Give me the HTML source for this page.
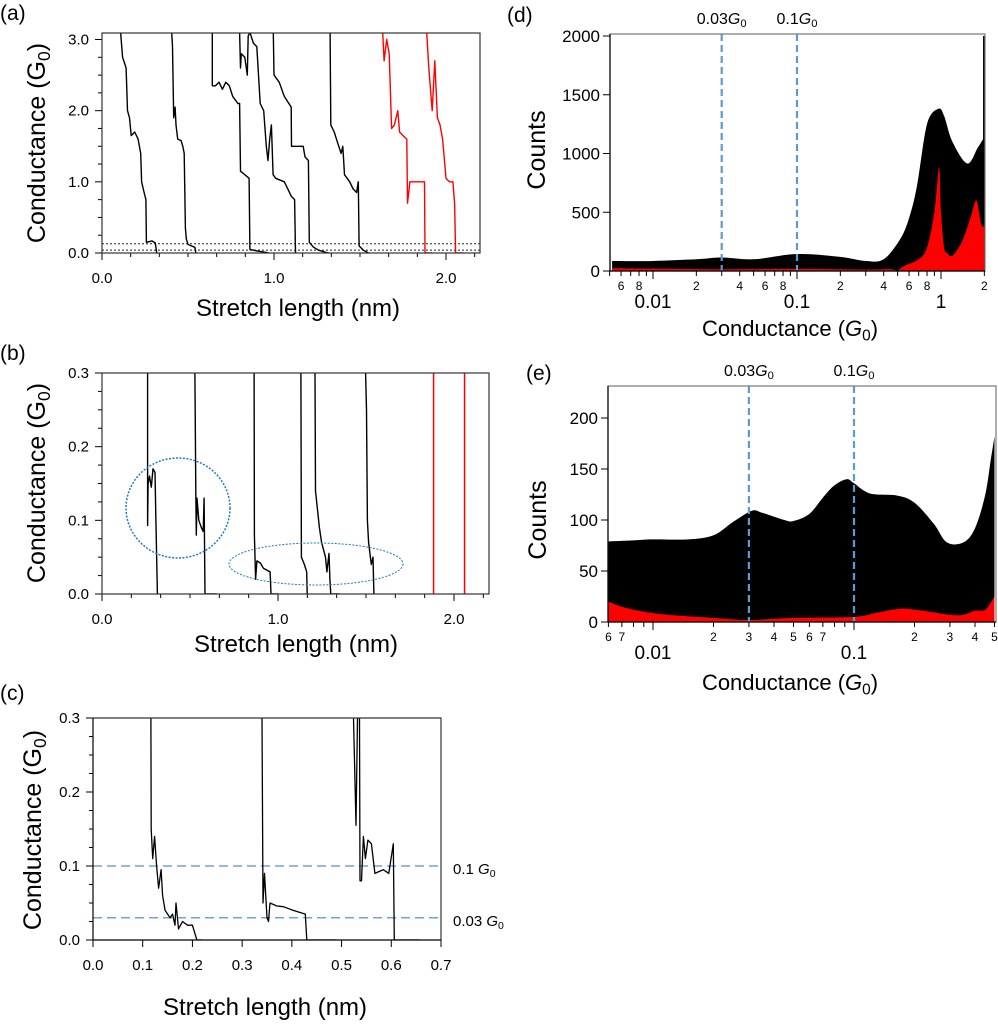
<!DOCTYPE html>
<html><head><meta charset="utf-8"><style>
html,body{margin:0;padding:0;background:#fff;}
svg{display:block;font-family:"Liberation Sans",Arial,sans-serif;}
</style></head><body>
<svg id="fig" width="998" height="1024" viewBox="0 0 998 1024" xmlns="http://www.w3.org/2000/svg"></svg>
<script>
// ---------- DATA ----------
const aBlack1=[[0.108,3.1],[0.12,2.75],[0.14,2.6],[0.148,2.0],[0.16,1.9],[0.17,1.65],[0.19,1.7],[0.21,1.6],[0.225,1.4],[0.23,1.0],[0.245,0.85],[0.255,0.75],[0.258,0.15],[0.29,0.17],[0.31,0.14],[0.318,0.0]];
const aBlack2=[[0.405,3.1],[0.41,2.9],[0.417,1.9],[0.425,2.05],[0.43,1.8],[0.44,1.6],[0.46,1.58],[0.47,1.5],[0.478,1.4],[0.485,0.35],[0.49,0.2],[0.5,0.12],[0.52,0.1],[0.54,0.08],[0.546,0.0]];
const aBlack3=[[0.641,3.1],[0.641,2.35],[0.66,2.35],[0.68,2.4],[0.7,2.3],[0.72,2.4],[0.74,2.35],[0.76,2.2],[0.79,2.1],[0.8,2.1],[0.805,1.15],[0.83,1.1],[0.855,1.05],[0.86,0.05],[0.9,0.03],[0.95,0.01],[0.97,0.0]];
const aBlack4=[[0.8,3.1],[0.805,2.6],[0.81,2.8],[0.83,2.75],[0.845,2.5],[0.85,3.05],[0.86,3.1],[0.88,2.95],[0.9,2.9],[0.92,2.1],[0.94,2.0],[0.955,1.5],[0.965,1.3],[0.975,1.6],[0.985,1.8],[0.995,1.1],[1.01,1.05],[1.06,1.0],[1.08,0.9],[1.1,0.8],[1.12,0.75],[1.125,0.0]];
const aBlack5=[[0.996,3.1],[1.0,2.5],[1.03,2.4],[1.06,2.2],[1.1,2.05],[1.102,1.5],[1.14,1.5],[1.17,1.5],[1.18,1.35],[1.2,1.3],[1.205,0.15],[1.23,0.08],[1.26,0.04],[1.3,0.01],[1.32,0.0]];
const aBlack6=[[1.326,3.1],[1.33,1.8],[1.35,1.7],[1.37,1.55],[1.39,1.4],[1.4,1.5],[1.41,1.1],[1.44,1.0],[1.46,0.9],[1.48,0.85],[1.49,1.0],[1.495,0.1],[1.52,0.04],[1.55,0.0]];
const aRed1=[[1.632,3.1],[1.64,2.7],[1.655,3.0],[1.67,2.8],[1.684,1.75],[1.7,1.8],[1.72,2.0],[1.73,1.7],[1.75,1.65],[1.772,1.6],[1.776,0.7],[1.79,1.0],[1.83,1.0],[1.875,1.0],[1.878,0.0],[1.92,0.0]];
const aRed2=[[1.888,3.1],[1.9,2.6],[1.92,2.0],[1.935,2.7],[1.95,1.9],[1.965,1.8],[1.98,1.6],[2.0,1.05],[2.02,1.0],[2.04,1.0],[2.05,0.7],[2.056,0.0],[2.1,0.0]];
const aRefLines=[0.13,0.04];
const bBlack1=[[0.259,0.3],[0.259,0.093],[0.262,0.15],[0.27,0.16],[0.28,0.145],[0.29,0.17],[0.301,0.165],[0.306,0.1],[0.315,0.0]];
const bBlack2=[[0.528,0.3],[0.533,0.14],[0.536,0.08],[0.54,0.13],[0.55,0.1],[0.565,0.09],[0.575,0.085],[0.58,0.13],[0.585,0.0],[0.65,0.0]];
const bBlack3=[[0.864,0.3],[0.866,0.08],[0.87,0.045],[0.873,0.02],[0.88,0.045],[0.9,0.042],[0.917,0.035],[0.955,0.03],[0.96,0.0],[1.0,0.0]];
const bBlack4=[[1.13,0.3],[1.133,0.05],[1.15,0.04],[1.163,0.03],[1.166,0.0]];
const bBlack5=[[1.21,0.3],[1.213,0.14],[1.235,0.09],[1.248,0.07],[1.27,0.05],[1.278,0.03],[1.29,0.055],[1.295,0.02],[1.3,0.0],[1.35,0.0]];
const bBlack6=[[1.498,0.3],[1.503,0.25],[1.508,0.1],[1.515,0.07],[1.53,0.04],[1.54,0.05],[1.545,0.0]];
const bRedX=[1.884,2.06];
const cBlack1=[[0.1165,0.3],[0.117,0.15],[0.12,0.11],[0.124,0.14],[0.128,0.1],[0.132,0.07],[0.137,0.095],[0.14,0.06],[0.145,0.04],[0.155,0.03],[0.16,0.035],[0.165,0.02],[0.167,0.05],[0.172,0.015],[0.18,0.025],[0.19,0.02],[0.2,0.02],[0.209,0.0],[0.22,0.0]];
const cBlack2=[[0.34,0.3],[0.342,0.05],[0.345,0.09],[0.35,0.03],[0.353,0.025],[0.356,0.05],[0.37,0.046],[0.383,0.045],[0.403,0.04],[0.427,0.035],[0.43,0.0],[0.49,0.0]];
const cBlack3a=[[0.524,0.3],[0.529,0.155],[0.532,0.3]];
const cBlack3b=[[0.536,0.3],[0.537,0.08],[0.54,0.08],[0.544,0.14],[0.548,0.11],[0.553,0.135],[0.56,0.13],[0.567,0.09],[0.584,0.095],[0.595,0.09],[0.604,0.13],[0.606,0.0],[0.658,0.0]];
const cRefLines=[0.1,0.03];
const cRefLabels=["0.1 ","0.03 "];
const dBlack=[[0.0052,85],[0.01,85],[0.02,100],[0.03,115],[0.05,100],[0.1,145],[0.2,120],[0.3,85],[0.4,100],[0.52,270],[0.6,450],[0.68,720],[0.8,1250],[0.96,1380],[1.05,1320],[1.2,1100],[1.52,915],[1.8,1050],[2.0,1140]];
const dSpike=[1.99,2000];
const dRed=[[0.0052,25],[0.01,20],[0.03,15],[0.1,18],[0.3,12],[0.45,15],[0.5,5],[0.55,40],[0.7,100],[0.8,200],[0.9,500],[0.97,880],[1.0,500],[1.05,200],[1.1,155],[1.2,130],[1.4,250],[1.6,450],[1.76,600],[1.9,400],[2.0,380]];
const dYTicks=[0,500,1000,1500,2000];
const dMinorLabels=[[0.006,"6"],[0.008,"8"],[0.02,"2"],[0.04,"4"],[0.06,"6"],[0.08,"8"],[0.2,"2"],[0.4,"4"],[0.6,"6"],[0.8,"8"],[2,"2"]];
const dMajorLabels=[[0.01,"0.01"],[0.1,"0.1"],[1,"1"]];
const eBlack=[[0.006,79],[0.008,80],[0.01,81],[0.015,81],[0.02,85],[0.025,98],[0.031,109],[0.035,107],[0.045,100],[0.05,99],[0.06,106],[0.07,122],[0.08,134],[0.092,140],[0.1,136],[0.12,126],[0.163,124],[0.2,117],[0.25,96],[0.29,78],[0.35,78],[0.4,92],[0.45,125],[0.48,160],[0.5,182]];
const eRed=[[0.006,20],[0.007,15],[0.009,10],[0.012,7],[0.02,4],[0.03,2],[0.05,4],[0.1,5],[0.13,9],[0.17,13],[0.22,11],[0.3,7],[0.35,7],[0.4,11],[0.45,12],[0.5,25]];
const eYTicks=[0,50,100,150,200];
const eMinorLabels=[[0.006,"6"],[0.007,"7"],[0.02,"2"],[0.03,"3"],[0.04,"4"],[0.05,"5"],[0.06,"6"],[0.07,"7"],[0.2,"2"],[0.3,"3"],[0.4,"4"],[0.5,"5"]];
const eMajorLabels=[[0.01,"0.01"],[0.1,"0.1"]];
const refG=[0.03,0.1];

// ---------- HELPERS ----------
const NS="http://www.w3.org/2000/svg";
const svg=document.getElementById('fig');
function mk(tag,attrs,parent){const e=document.createElementNS(NS,tag);for(const k in attrs)e.setAttribute(k,attrs[k]);(parent||svg).appendChild(e);return e;}
function lin(d0,d1,p0,p1){return v=>p0+(v-d0)*(p1-p0)/(d1-d0);}
function lg(d0,d1,p0,p1){return v=>p0+(Math.log10(v)-Math.log10(d0))*(p1-p0)/(Math.log10(d1)-Math.log10(d0));}
function txt(x,y,s,size,anchor,parent){const t=mk('text',{x:x,y:y,'font-size':size,'text-anchor':anchor||'middle',fill:'#000'},parent);t.textContent=s;return t;}
function g0Label(x,y,pre,size,anchor,italic,parent){
  const t=mk('text',{x:x,y:y,'font-size':size,'text-anchor':anchor||'middle',fill:'#000'},parent);
  const a=mk('tspan',{},t);a.textContent=pre;
  const b=mk('tspan',{'font-style':italic?'italic':'normal'},t);b.textContent='G';
  const c=mk('tspan',{'font-size':size*0.7,dy:size*0.2},t);c.textContent='0';
  return t;
}
function poly(pts,xs,ys,color,w,parent){return mk('polyline',{points:pts.map(p=>xs(p[0]).toFixed(1)+','+ys(p[1]).toFixed(1)).join(' '),fill:'none',stroke:color,'stroke-width':w||1.3,'stroke-linejoin':'round'},parent);}
function area(pts,xs,ys,y0,color,parent){
  const P=pts.map(p=>[xs(p[0]),ys(p[1])]);
  let d='M'+P[0][0].toFixed(1)+','+y0+' L'+P[0][0].toFixed(1)+','+P[0][1].toFixed(1);
  for(let i=0;i<P.length-1;i++){
    const p0=P[Math.max(0,i-1)],p1=P[i],p2=P[i+1],p3=P[Math.min(P.length-1,i+2)];
    const c1=[p1[0]+(p2[0]-p0[0])/6,p1[1]+(p2[1]-p0[1])/6],c2=[p2[0]-(p3[0]-p1[0])/6,p2[1]-(p3[1]-p1[1])/6];
    d+=' C'+c1[0].toFixed(1)+','+c1[1].toFixed(1)+' '+c2[0].toFixed(1)+','+c2[1].toFixed(1)+' '+p2[0].toFixed(1)+','+p2[1].toFixed(1);
  }
  d+=' L'+P[P.length-1][0].toFixed(1)+','+y0+' Z';
  return mk('path',{d:d,fill:color},parent);
}
function ytitle(x,y,size,parent){const t=g0Label(0,0,'Conductance (',size,'middle',false,parent);t.setAttribute('transform','translate('+x+','+y+') rotate(-90)');const e=mk('tspan',{dy:-size*0.2},t);e.textContent=')';return t;}

// ---------- PANEL A ----------
(function(){
const g=mk('g',{});


const xs=lin(0,1,102,274), ys=lin(0,3,253,39.5);
txt(0,20,'(a)',21,'start',g);
for(let i=0;i<=13;i++){const v=i/6,px=xs(v);if(px>480)break;const maj=i%6===0;mk('line',{x1:px,y1:253,x2:px,y2:253+(maj?7:4),stroke:'#000'},g);}
[0,1,2].forEach(v=>txt(xs(v),283,v.toFixed(1),15,'middle',g));
for(let i=0;i<=12;i++){const v=i*0.25,py=ys(v);const maj=i%4===0;mk('line',{x1:102,y1:py,x2:102-(maj?7:4),y2:py,stroke:'#000'},g);}
[0,1,2,3].forEach(v=>txt(89,ys(v)+5,v.toFixed(1),15,'end',g));
aRefLines.forEach(v=>mk('line',{x1:102,x2:480,y1:ys(v),y2:ys(v),stroke:'#222','stroke-dasharray':'2,2','stroke-width':1},g));
const clip=mk('clipPath',{id:'ca'},g);mk('rect',{x:102,y:33,width:378,height:220},clip);
const tg=mk('g',{'clip-path':'url(#ca)'},g);
[aBlack1,aBlack2,aBlack3,aBlack4,aBlack5,aBlack6].forEach((t,i)=>{const p=poly(t,xs,ys,'#000',1.4,tg);});
[aRed1,aRed2].forEach((t,i)=>{const p=poly(t,xs,ys,'#f00',1.4,tg);});
mk('rect',{x:102,y:33,width:378,height:220,fill:'none',stroke:'#333','stroke-width':1.2},g);
ytitle(45,143,25,g);
txt(298,316,'Stretch length (nm)',24,'middle',g);
})();

// ---------- PANEL B ----------
(function(){
const g=mk('g',{});


const xs=lin(0,1,102,278), ys=lin(0,0.3,594,373);
txt(0,360,'(b)',21,'start',g);
for(let i=0;i<=13;i++){const v=i/6,px=xs(v);if(px>489)break;const maj=i%6===0;mk('line',{x1:px,y1:594,x2:px,y2:594+(maj?7:4),stroke:'#000'},g);}
[0,1,2].forEach(v=>txt(xs(v),624,v.toFixed(1),15,'middle',g));
for(let i=0;i<=12;i++){const v=i*0.025,py=ys(v);const maj=i%4===0;mk('line',{x1:102,y1:py,x2:102-(maj?7:4),y2:py,stroke:'#000'},g);}
[0,0.1,0.2,0.3].forEach(v=>txt(89,ys(v)+5,v.toFixed(1),15,'end',g));
const clip=mk('clipPath',{id:'cb'},g);mk('rect',{x:102,y:373,width:387,height:221},clip);
const tg=mk('g',{'clip-path':'url(#cb)'},g);
[bBlack1,bBlack2,bBlack3,bBlack4,bBlack5,bBlack6].forEach((t,i)=>{const p=poly(t,xs,ys,'#000',1.4,tg);});
bRedX.forEach((v,i)=>{const l=mk('line',{x1:xs(v),x2:xs(v),y1:373,y2:594,stroke:'#f00','stroke-width':1.5},tg);});
const c1=mk('ellipse',{cx:178,cy:508,rx:52,ry:50,fill:'none',stroke:'#1f78c8','stroke-width':1.5,'stroke-dasharray':'2,1.5'},g);

const c2=mk('ellipse',{cx:316,cy:564,rx:87,ry:21,fill:'none',stroke:'#1f78c8','stroke-width':1,'stroke-dasharray':'2,1.5'},g);

mk('rect',{x:102,y:373,width:387,height:221,fill:'none',stroke:'#333','stroke-width':1.2},g);
ytitle(45,483,25,g);
txt(296,652,'Stretch length (nm)',24,'middle',g);
})();

// ---------- PANEL C ----------
(function(){
const g=mk('g',{});


const xs=lin(0,0.7,93,441), ys=lin(0,0.3,940,718);
txt(0,700,'(c)',21,'start',g);
for(let i=0;i<=7;i++){const v=i*0.1;mk('line',{x1:xs(v),y1:940,x2:xs(v),y2:947,stroke:'#000'},g);txt(xs(v),970,v.toFixed(1),15,'middle',g);}
for(let i=0;i<=12;i++){const v=i*0.025,py=ys(v);const maj=i%4===0;mk('line',{x1:93,y1:py,x2:93-(maj?7:4),y2:py,stroke:'#000'},g);}
[0,0.1,0.2,0.3].forEach(v=>txt(80,ys(v)+5,v.toFixed(1),15,'end',g));
cRefLines.forEach((v,i)=>{const l=mk('line',{x1:93,x2:441,y1:ys(v),y2:ys(v),stroke:'#6fa3db','stroke-width':1.5,'stroke-dasharray':'9,5'},g);
  const t=g0Label(453,ys(v)+8,cRefLabels[i],15,'start',true,g);});
const clip=mk('clipPath',{id:'cc'},g);mk('rect',{x:93,y:718,width:348,height:222},clip);
const tg=mk('g',{'clip-path':'url(#cc)'},g);
[cBlack1,cBlack2,cBlack3a,cBlack3b].forEach((t,i)=>{const p=poly(t,xs,ys,'#000',1.3,tg);});
mk('polyline',{points:'93,718 441,718 441,940',fill:'none',stroke:'#333','stroke-width':1.2},g);
mk('line',{x1:93,y1:718,x2:93,y2:940,stroke:'#000','stroke-width':1.2},g);
mk('line',{x1:93,y1:940,x2:441,y2:940,stroke:'#000','stroke-width':1.2},g);
ytitle(41,830,25,g);
txt(265,1015,'Stretch length (nm)',24,'middle',g);
})();

// ---------- LOG HISTOGRAM PANEL ----------
function histPanel(o){
const g=mk('g',{});


txt(o.lab[0],o.lab[1],o.labText,21,'start',g);
const xs=o.xs, ys=o.ys;
const clip=mk('clipPath',{id:'cl'+o.name},g);mk('rect',{x:o.x0,y:o.y0,width:o.x1-o.x0,height:o.y1-o.y0},clip);
const tg=mk('g',{'clip-path':'url(#cl'+o.name+')'},g);
area(o.black,xs,ys,o.y1,'#000',tg);
if(o.spike){const s=mk('rect',{x:xs(o.spike[0])-1,y:ys(o.spike[1]),width:o.x1-xs(o.spike[0])+1,height:o.y1-ys(o.spike[1]),fill:'#000'},tg);}
area(o.red,xs,ys,o.y1,'#f00',tg);
refG.forEach((v,i)=>{const l=mk('line',{x1:xs(v),x2:xs(v),y1:o.y0,y2:o.y1,stroke:'#5b9bd5','stroke-width':2.2,'stroke-dasharray':'7,4'},g);
  const t=g0Label(xs(v),o.y0-10,v===0.03?'0.03':'0.1',16,'middle',true,g);});
mk('rect',{x:o.x0,y:o.y0,width:o.x1-o.x0,height:o.y1-o.y0,fill:'none',stroke:'#777','stroke-width':1.2},g);
mk('line',{x1:o.x0,y1:o.y0,x2:o.x0,y2:o.y1,stroke:'#000','stroke-width':1.2},g);
mk('line',{x1:o.x0,y1:o.y1,x2:o.x1,y2:o.y1,stroke:'#000','stroke-width':1.2},g);
o.yticks.forEach(v=>{mk('line',{x1:o.x0,x2:o.x0-7,y1:ys(v),y2:ys(v),stroke:'#000'},g);txt(o.x0-10,ys(v)+6,String(v),17,'end',g);});
for(let d=-3;d<=0;d++)for(let m=1;m<=9;m++){const v=m*Math.pow(10,d),px=xs(v);if(px<o.x0-0.5||px>o.x1+0.5)continue;mk('line',{x1:px,x2:px,y1:o.y1,y2:o.y1+(m===1?8:5),stroke:'#000'},g);}
o.minor.forEach(p=>txt(xs(p[0]),o.y1+19,p[1],12,'middle',g));
o.major.forEach(p=>txt(xs(p[0]),o.y1+37,p[1],19,'middle',g));
const ct=txt(0,0,'Counts',25,'middle',g);ct.setAttribute('transform','translate('+o.cx+','+o.cy+') rotate(-90)');
const xt=g0Label(o.xtx,o.xty,'Conductance (',22,'middle',true,g);const e=mk('tspan',{dy:-4.4},xt);e.textContent=')';
}
histPanel({name:'panel-d',labText:'(d)',lab:[507,22],x0:610,x1:985,y0:34,y1:271,xs:lg(0.01,1,653,941),ys:lin(0,2000,271,36),black:dBlack,spike:dSpike,red:dRed,yticks:dYTicks,minor:dMinorLabels,major:dMajorLabels,cx:545,cy:150,xtx:790,xty:336});
histPanel({name:'panel-e',labText:'(e)',lab:[526,380],x0:608,x1:996,y0:386,y1:622,xs:lg(0.01,0.1,653,854),ys:lin(0,200,622,418),black:eBlack,red:eRed,yticks:eYTicks,minor:eMinorLabels,major:eMajorLabels,cx:546,cy:520,xtx:790,xty:690});
</script>
</body></html>
